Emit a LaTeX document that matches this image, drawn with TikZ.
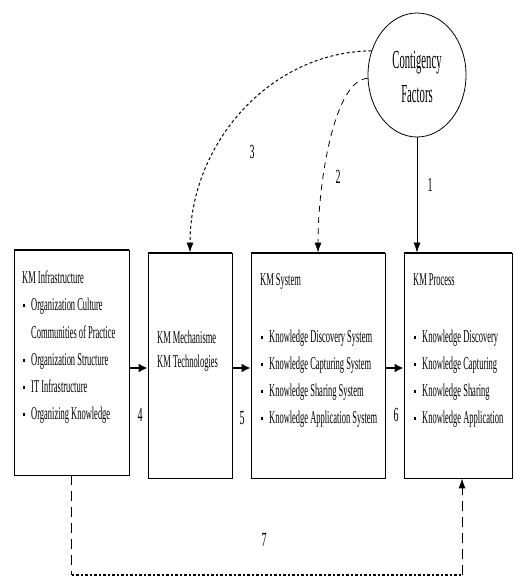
\documentclass[tikz,border=0pt]{standalone}
\usepackage{fontspec}
\setmainfont{Liberation Serif}[FakeStretch=0.47]
\newfontfamily\cffont{Liberation Serif}[FakeStretch=0.41]
\newfontfamily\numfont{Liberation Serif}[FakeStretch=0.5]
\usetikzlibrary{arrows.meta,shapes.geometric}
\begin{document}
\begin{tikzpicture}[x=1pt,y=-1pt,
  box/.style={draw, line width=0.8pt, rectangle, minimum height=225pt, inner sep=0pt},
  txt/.style={anchor=base west, inner sep=0pt, font=\fontsize{18}{18}\selectfont},
  bul/.style={anchor=base west, inner sep=0pt},
  lbl/.style={inner sep=0pt, font=\numfont\fontsize{20}{20}\selectfont},
  flow/.style={line width=1.8pt, -{Latex[length=9pt,width=9pt]}},
  thin/.style={line width=0.7pt, -{Latex[length=10pt,width=7pt]}},
  dsh/.style={line width=0.8pt, dash pattern=on 6pt off 5pt},
  dot/.style={line width=1pt, dash pattern=on 3pt off 2.5pt},
]
\useasboundingbox (0,0) rectangle (514,577);

% boxes
\node[box, minimum width=115pt] (b1) at (71.5,362.5) {};
\node[box, minimum width=84pt]  (b2) at (190,365.5) {};
\node[box, minimum width=134pt] (b3) at (318,365.5) {};
\node[box, minimum width=108pt] (b4) at (458,365.5) {};
\foreach \b in {b1,b2,b3,b4}{
  \draw[line width=1.8pt] (\b.north west) -- (\b.north east);
  \draw[line width=1.4pt] (\b.south west) -- (\b.south east);
}

% contingency factors
\node[draw, ellipse, line width=0.8pt, minimum width=98pt, minimum height=124pt] (cf) at (417,75) {};
\node[inner sep=0pt, anchor=base, font=\cffont\fontsize{26}{26}\selectfont] (cf1) at (417,69) {Contigency};
\node[inner sep=0pt, anchor=base, font=\cffont\fontsize{26}{26}\selectfont] (cf2) at (417,103) {Factors};

% KM Infrastructure
\node[txt] (i0) at (22,283) {KM Infrastructure};
\node[txt] (i1) at (31,310) {Organization Culture};
\node[txt] (i2) at (31,338) {Communities of Practice};
\node[txt] (i3) at (31,365) {Organization Structure};
\node[txt] (i4) at (31,392) {IT Infrastructure};
\node[txt] (i5) at (31,419) {Organizing Knowledge};
\foreach \y/\n in {310/1,365/3,392/4,419/5}
  \node[bul] (ib\n) at (23,\y) {\rule[3.5pt]{1.6pt}{2.8pt}};

% KM Mechanisme
\node[txt] (m1) at (157,343) {KM Mechanisme};
\node[txt] (m2) at (157,367) {KM Technologies};

% KM System
\node[txt] (s0) at (260,285) {KM System};
\node[txt] (s1) at (269,342) {Knowledge Discovery System};
\node[txt] (s2) at (269,369) {Knowledge Capturing System};
\node[txt] (s3) at (269,396) {Knowledge Sharing System};
\node[txt] (s4) at (269,423) {Knowledge Application System};
\foreach \y/\n in {342/1,369/2,396/3,423/4}
  \node[bul] (sb\n) at (261,\y) {\rule[3.5pt]{1.6pt}{2.8pt}};

% KM Process
\node[txt] (p0) at (413,285) {KM Process};
\node[txt] (p1) at (422,342) {Knowledge Discovery};
\node[txt] (p2) at (422,369) {Knowledge Capturing};
\node[txt] (p3) at (422,396) {Knowledge Sharing};
\node[txt] (p4) at (422,423) {Knowledge Application};
\foreach \y/\n in {342/1,369/2,396/3,423/4}
  \node[bul] (pb\n) at (414,\y) {\rule[3.5pt]{1.6pt}{2.8pt}};

% flow between the boxes
\draw[flow] (b1.east |- 0,368) -- (b2.west |- 0,368);
\draw[flow] (b2.east |- 0,368) -- (b3.west |- 0,368);
\draw[flow] (b3.east |- 0,368) -- (b4.west |- 0,368);

% influence of the contingency factors
\draw[thin] (cf.south) -- (cf.south |- b4.north);
\draw[dsh, -{Latex[length=10pt,width=7pt]}] (cf.184) .. controls (335,79) and (318,180) .. (b3.north);
\draw[dot, -{Latex[length=10pt,width=7pt]}] (cf.152) .. controls (271,52) and (190,142) .. (b2.north);

% feedback from infrastructure to process
\coordinate (r1) at (71.5,575);
\coordinate (r2) at (462,575);
\draw[dsh, line width=0.9pt, dash pattern=on 10pt off 6pt] (b1.south) -- (r1);
\draw[dot, line width=1.2pt, dash pattern=on 2.5pt off 2pt] (r1) -- (r2);
\draw[dsh, line width=0.9pt, dash pattern=on 10pt off 6pt, -{Latex[length=10pt,width=7pt]}] (r2) -- (r2 |- b4.south);

% labels
\node[lbl] (l1) at (430,185) {1};
\node[lbl] (l2) at (338,177) {2};
\node[lbl] (l3) at (252,152) {3};
\node[lbl] (l4) at (140,415) {4};
\node[lbl] (l5) at (242,418) {5};
\node[lbl] (l6) at (396,415) {6};
\node[lbl] (l7) at (264,540) {7};
\end{tikzpicture}
\end{document}
